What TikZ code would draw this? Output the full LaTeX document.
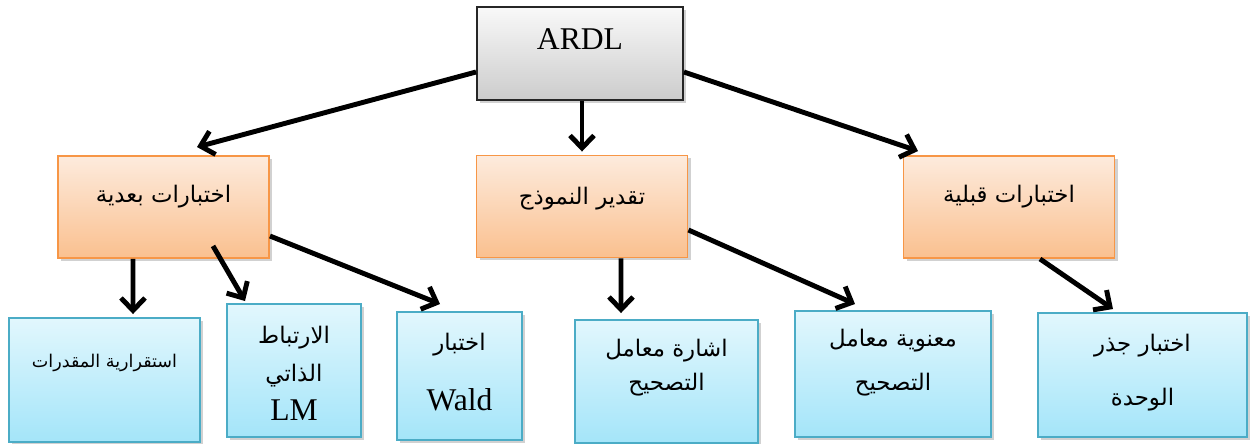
\documentclass[tikz,border=0pt]{standalone}
\usepackage{fontspec}
\setmainfont{Liberation Serif}
\newfontfamily\arabicfont[Script=Arabic]{DejaVu Sans}
\TeXXeTstate=1
\usetikzlibrary{arrows.meta, shadows}

\definecolor{orangeline}{HTML}{F79646}
\definecolor{orangetop}{HTML}{FDEBDD}
\definecolor{orangebot}{HTML}{FAC08F}
\definecolor{blueline}{HTML}{4BACC6}
\definecolor{bluetop}{HTML}{E2F7FD}
\definecolor{bluebot}{HTML}{A4E5F9}

\newcommand{\artext}[1]{{\arabicfont\fontsize{13pt}{22pt}\selectfont\beginR #1\endR}}

\tikzset{
  box/.style={draw, line width=1.1pt, inner sep=0pt,
    drop shadow={shadow xshift=0.6mm, shadow yshift=-0.6mm, opacity=0.18, fill=black}},
  topbox/.style={box, draw=black!85, top color=gray!5, bottom color=gray!40,
    minimum width=41.2mm, minimum height=18.6mm},
  midbox/.style={box, draw=orangeline, top color=orangetop, bottom color=orangebot,
    minimum width=42.2mm, minimum height=20.4mm},
  lowbox/.style={box, draw=blueline, top color=bluetop, bottom color=bluebot},
  lbl/.style={align=center, inner sep=0pt, font=\fontsize{18pt}{22pt}\selectfont},
  link/.style={-{Straight Barb[length=2.5mm, width=4.8mm]}, line width=2.8pt},
}

\begin{document}
\begin{tikzpicture}[x=0.2mm, y=-0.2mm]
  \useasboundingbox (0,0) rectangle (1251,444);

  % top
  \node[topbox] (ardl) at (580,53.5) {};
  \node[lbl] (ardlt) at ([yshift=2.9mm]ardl.center) {ARDL};

  % middle row
  \node[midbox] (post) at (163.5,207) {};
  \node[lbl] (postt) at ([yshift=2mm]post.center) {\artext{اختبارات بعدية}};
  \node[midbox] (est) at (582,206.5) {};
  \node[lbl] (estt) at ([yshift=1.6mm]est.center) {\artext{تقدير النموذج}};
  \node[midbox] (pre) at (1009,207) {};
  \node[lbl] (pret) at ([yshift=2mm]pre.center) {\artext{اختبارات قبلية}};

  % bottom row
  \node[lowbox, minimum width=38.2mm, minimum height=24.8mm] (stab) at (104.5,380) {};
  \node[lbl] (stabt) at ([yshift=3.4mm]stab.center)
    {{\arabicfont\fontsize{10pt}{22pt}\selectfont\beginR استقرارية المقدرات\endR}};
  \node[lowbox, minimum width=26.8mm, minimum height=26.6mm] (lm) at (294,370.5) {};
  \node[lbl] (lmt) at ([yshift=-0.5mm]lm.center) {\artext{الارتباط}\\ \artext{الذاتي}\\ LM};
  \node[lowbox, minimum width=25mm, minimum height=25.6mm] (wald) at (459.5,376) {};
  \node[lbl] (waldt) at ([yshift=0.8mm]wald.center) {\artext{اختبار}\\[4.2mm] Wald};
  \node[lowbox, minimum width=36.6mm, minimum height=24.6mm] (sign) at (666.5,381.5) {};
  \node[lbl] (signt) at ([yshift=2.8mm]sign.center) {\artext{اشارة معامل}\\[-0.8mm] \artext{التصحيح}};
  \node[lowbox, minimum width=39.2mm, minimum height=25.2mm] (signif) at (893,374) {};
  \node[lbl] (signift) at ([yshift=2.3mm]signif.center) {\artext{معنوية معامل}\\[1.2mm] \artext{التصحيح}};
  \node[lowbox, minimum width=41.8mm, minimum height=24.8mm] (unit) at (1142.5,375) {};
  \node[lbl] (unitt) at ([yshift=0.5mm]unit.center) {\artext{اختبار جذر}\\[3.2mm] \artext{الوحدة}};

  % arrows
  \draw[link] ([yshift=-3.7mm]ardl.west) -- ([xshift=6.7mm,yshift=1.6mm]post.north);
  \draw[link] (ardl.south -| est.north) -- ([yshift=0.6mm]est.north);
  \draw[link] ([yshift=-3.7mm]ardl.east) -- ([xshift=-18.2mm,yshift=0.8mm]pre.north);
  \draw[link] ([xshift=-6.1mm]post.south) -- ([xshift=5.7mm,yshift=0.6mm]stab.north);
  \draw[link] ([xshift=9.9mm,yshift=2.6mm]post.south) -- ([xshift=-9.8mm,yshift=0.4mm]lm.north);
  \draw[link] ([yshift=-5.8mm]post.east) -- ([xshift=-3.9mm,yshift=1.4mm]wald.north);
  \draw[link] ([xshift=7.8mm]est.south) -- ([xshift=-9.1mm,yshift=1.2mm]sign.north);
  \draw[link] ([yshift=-4.7mm]est.east) -- ([xshift=-7.6mm,yshift=1.2mm]signif.north);
  \draw[link] ([xshift=6.2mm]pre.south) -- ([xshift=-5.9mm,yshift=0.6mm]unit.north);
\end{tikzpicture}
\end{document}
